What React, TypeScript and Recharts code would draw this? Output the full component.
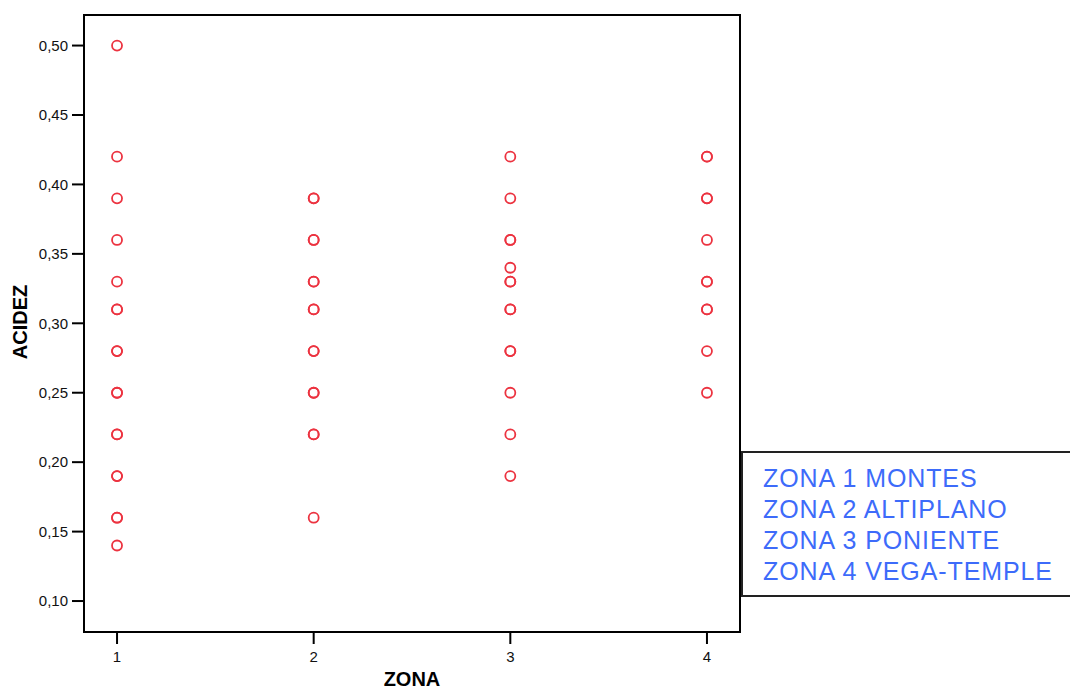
import {
  ScatterChart,
  Scatter,
  XAxis,
  YAxis,
  ReferenceArea,
} from "recharts";

// acidez por zona (valores repetidos = puntos superpuestos)
const zona1 = [0.5, 0.42, 0.39, 0.36, 0.33, 0.31, 0.31, 0.28, 0.28, 0.25, 0.25, 0.22, 0.22, 0.19, 0.19, 0.16, 0.16, 0.14];
const zona2 = [0.39, 0.39, 0.36, 0.36, 0.33, 0.33, 0.31, 0.31, 0.28, 0.28, 0.25, 0.25, 0.22, 0.22, 0.16];
const zona3 = [0.42, 0.39, 0.36, 0.36, 0.34, 0.33, 0.33, 0.31, 0.31, 0.28, 0.28, 0.25, 0.22, 0.19];
const zona4 = [0.42, 0.42, 0.39, 0.39, 0.36, 0.33, 0.33, 0.31, 0.31, 0.28, 0.25];

const xTicks = [1, 2, 3, 4];
const yTicks = [0.1, 0.15, 0.2, 0.25, 0.3, 0.35, 0.4, 0.45, 0.5];
const legendLines = ["ZONA 1 MONTES", "ZONA 2 ALTIPLANO", "ZONA 3 PONIENTE", "ZONA 4 VEGA-TEMPLE"];

const X_DOMAIN: [number, number] = [0.832, 4.168];
const Y_DOMAIN: [number, number] = [0.0777, 0.522];

const RED = "#ec3340";
const FONT = "Arial, 'Liberation Sans', sans-serif";

const points = [zona1, zona2, zona3, zona4].flatMap((vals, i) =>
  vals.map((acidez) => ({ zona: i + 1, acidez }))
);

function Ring(props: any) {
  const { cx, cy } = props;
  if (cx == null || cy == null) return <g />;
  return <circle cx={cx} cy={cy} r={5} fill="none" stroke={RED} strokeWidth={1.8} />;
}

export default function App() {
  return (
    <div style={{ position: "absolute", left: 0, top: 0, width: 1070, height: 691, background: "#fff", fontFamily: FONT }}>
      <ScatterChart width={1070} height={691} margin={{ top: 15, right: 330, bottom: 0, left: 0 }}>
        <XAxis
          type="number"
          dataKey="zona"
          domain={X_DOMAIN}
          ticks={xTicks}
          allowDataOverflow
          height={59}
          tickSize={12}
          tickMargin={7}
          axisLine={{ stroke: "#000", strokeWidth: 2 }}
          tickLine={{ stroke: "#000", strokeWidth: 2 }}
          tick={{ fill: "#111", fontSize: 15, fontFamily: FONT }}
        />
        <YAxis
          type="number"
          dataKey="acidez"
          domain={Y_DOMAIN}
          ticks={yTicks}
          allowDataOverflow
          width={84}
          tickSize={12}
          tickMargin={4}
          tickFormatter={(v: number) => v.toFixed(2).replace(".", ",")}
          axisLine={{ stroke: "#000", strokeWidth: 2 }}
          tickLine={{ stroke: "#000", strokeWidth: 2 }}
          tick={{ fill: "#111", fontSize: 15, fontFamily: FONT }}
        />
        <ReferenceArea
          x1={X_DOMAIN[0]}
          x2={X_DOMAIN[1]}
          y1={Y_DOMAIN[0]}
          y2={Y_DOMAIN[1]}
          fill="none"
          stroke="#000"
          strokeWidth={2}
          ifOverflow="visible"
        />
        <Scatter data={points} shape={<Ring />} isAnimationActive={false} />
        <text
          x={412}
          y={686}
          textAnchor="middle"
          fontFamily={FONT}
          fontWeight="bold"
          fontSize={20}
          fill="#000"
        >
          ZONA
        </text>
        <text
          x={27}
          y={322}
          textAnchor="middle"
          fontFamily={FONT}
          fontWeight="bold"
          fontSize={20}
          fill="#000"
          transform="rotate(-90 27 322)"
        >
          ACIDEZ
        </text>
      </ScatterChart>
      <div
        style={{
          position: "absolute",
          left: 741,
          top: 451,
          width: 326,
          height: 132,
          border: "2px solid #222",
          background: "#fff",
          color: "#3d6bfa",
          fontSize: 25,
          letterSpacing: 0.9,
          lineHeight: "31px",
          paddingLeft: 20,
          paddingTop: 10,
          boxSizing: "content-box",
        }}
      >
        {legendLines.map((l) => (
          <div key={l} style={{ whiteSpace: "nowrap" }}>{l}</div>
        ))}
      </div>
    </div>
  );
}
